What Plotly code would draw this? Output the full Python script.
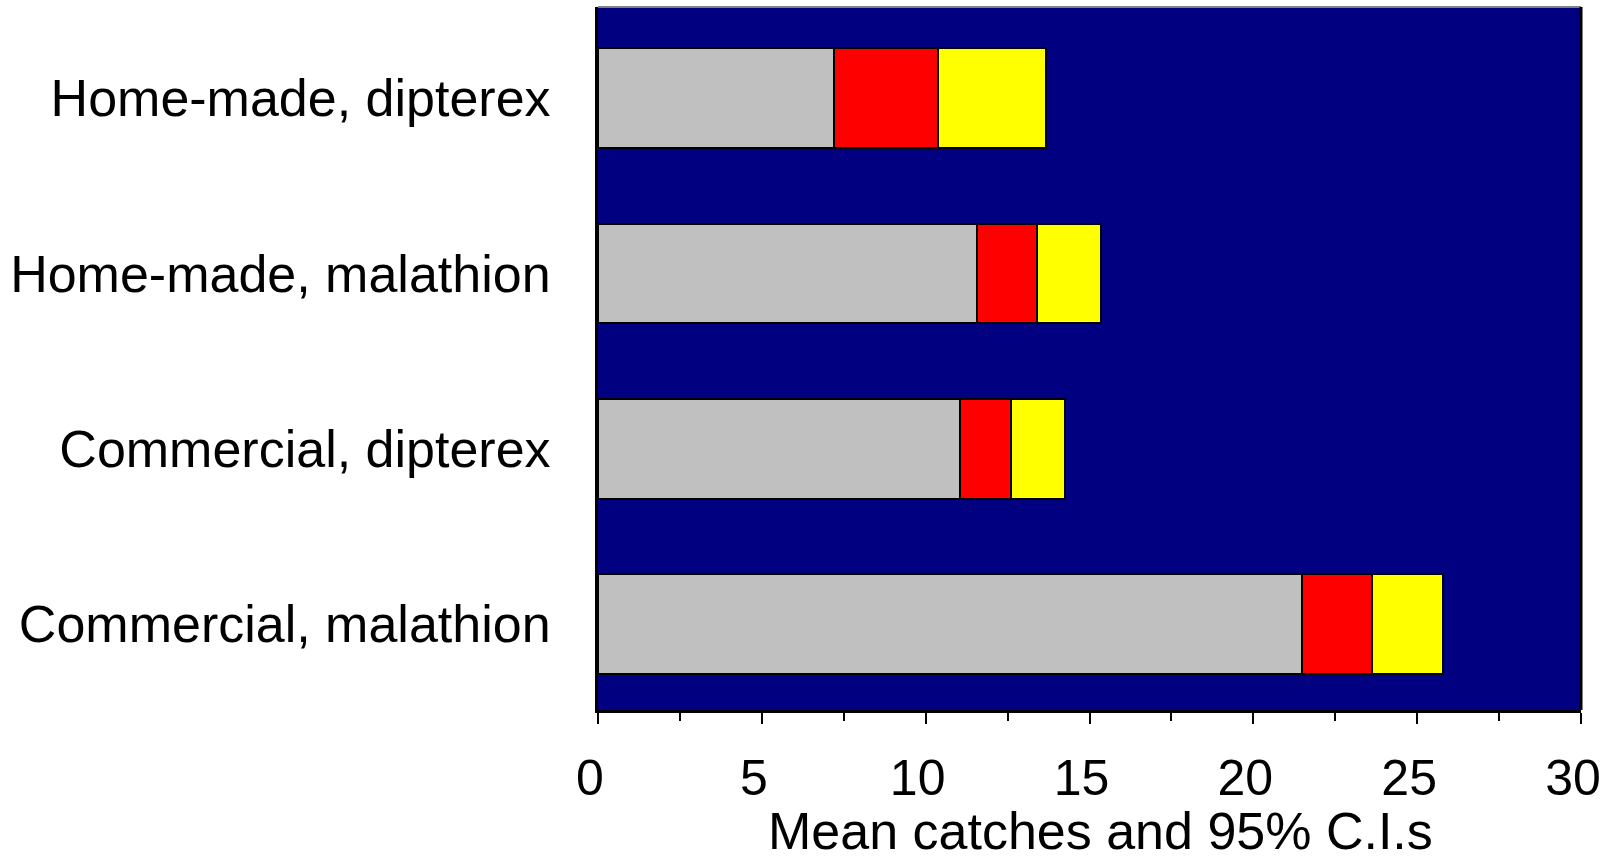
import plotly.graph_objects as go

# Trap types (top to bottom) and catch statistics
categories = [
    "Home-made, dipterex",
    "Home-made, malathion",
    "Commercial, dipterex",
    "Commercial, malathion",
]
ci_lower = [7.21, 11.57, 11.06, 21.47]
mean_catch = [10.38, 13.40, 12.59, 23.61]
ci_upper = [13.66, 15.34, 14.24, 25.80]

x_ticks = [0, 5, 10, 15, 20, 25, 30]
x_title = "Mean catches and 95% C.I.s"

# Stacked segments: lower limit, lower limit -> mean, mean -> upper limit
seg_lower = ci_lower
seg_to_mean = [m - lo for m, lo in zip(mean_catch, ci_lower)]
seg_to_upper = [up - m for up, m in zip(ci_upper, mean_catch)]

FONT = "Arial, Liberation Sans, Helvetica, sans-serif"
BAR_W = 0.57

fig = go.Figure()
for name, vals, colour in [
    ("Lower 95% C.I.", seg_lower, "#C0C0C0"),
    ("Mean", seg_to_mean, "#FF0000"),
    ("Upper 95% C.I.", seg_to_upper, "#FFFF00"),
]:
    fig.add_trace(go.Bar(
        y=categories,
        x=vals,
        orientation="h",
        name=name,
        width=BAR_W,
        marker=dict(color=colour, line=dict(color="black", width=2)),
        showlegend=False,
    ))

fig.update_layout(
    width=1618,
    height=861,
    barmode="stack",
    paper_bgcolor="white",
    plot_bgcolor="#000080",
    margin=dict(l=598, r=37, t=7, b=151),
    font=dict(family=FONT, color="black"),
    xaxis=dict(
        range=[0, 30],
        tickvals=x_ticks,
        ticktext=[str(v) for v in x_ticks],
        showgrid=False,
        zeroline=False,
        showline=True,
        linecolor="black",
        linewidth=3,
        ticks="outside",
        ticklen=11,
        tickwidth=2,
        tickcolor="black",
        tickfont=dict(size=50, family=FONT),
        ticklabelshift=-8,
        ticklabelstandoff=11,
        minor=dict(dtick=2.5, ticks="outside", ticklen=8, tickwidth=2, tickcolor="black"),
        automargin=False,
        fixedrange=True,
    ),
    yaxis=dict(
        categoryorder="array",
        categoryarray=categories,
        range=[3.49, -0.52],
        showgrid=False,
        zeroline=False,
        showline=True,
        linecolor="black",
        linewidth=3,
        ticks="",
        tickfont=dict(size=52, family=FONT),
        ticklabelstandoff=34,
        automargin=False,
        fixedrange=True,
    ),
)

# Horizontal axis title
fig.add_annotation(
    text=x_title, xref="paper", yref="paper", x=0.511, y=0,
    xanchor="center", yanchor="middle", yshift=-121, showarrow=False,
    height=42, valign="middle", borderpad=0,
    font=dict(size=52, family=FONT, color="black"),
)

# Frame: grey top edge and black right edge of the plotting area
fig.add_shape(type="line", xref="paper", yref="paper", x0=0, x1=1, y0=1, y1=1,
              line=dict(color="#808080", width=2))
fig.add_shape(type="line", xref="paper", yref="paper", x0=1, x1=1, y0=0, y1=1,
              line=dict(color="black", width=3))

fig.write_html("out.html")
